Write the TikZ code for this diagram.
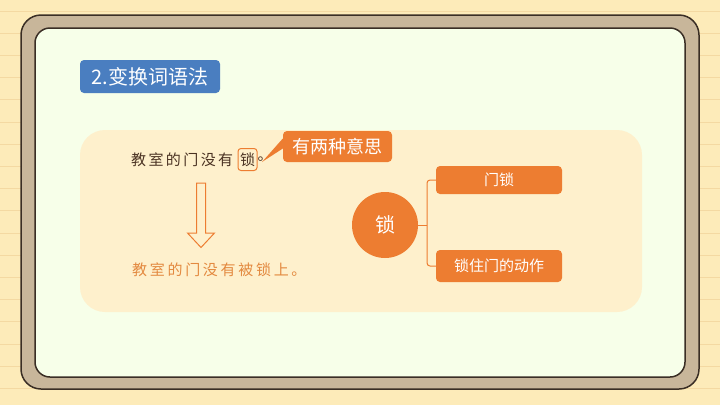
\documentclass[tikz,border=0pt]{standalone}
\usepackage{fontspec}
\newfontfamily\cjk{Noto Sans CJK SC}
\newfontfamily\cjkls[LetterSpace=16]{Noto Sans CJK SC}
\newfontfamily\cjklt[LetterSpace=18]{Noto Sans CJK SC}
\definecolor{paper}{HTML}{FDEBB9}
\definecolor{rule}{HTML}{F4D9A2}
\definecolor{tan}{HTML}{C8B69A}
\definecolor{dark}{HTML}{3A2E25}
\definecolor{board}{HTML}{F7FFE9}
\definecolor{panel}{HTML}{FEF0CC}
\definecolor{ora}{HTML}{ED7D31}
\definecolor{blu}{HTML}{4A7EC0}
\definecolor{brown}{HTML}{4A3222}
\definecolor{ora2}{HTML}{E3893F}
\tikzset{
  obox/.style={fill=ora,rounded corners=4pt,text=white,font=\cjk\fontsize{15}{15}\selectfont,inner sep=0pt},
  conn/.style={draw=ora,line width=1pt},
}
\begin{document}
\begin{tikzpicture}[x=1pt,y=-1pt]
\useasboundingbox (0,0) rectangle (720,405);
\fill[paper] (0,0) rectangle (720,405);
\foreach \k in {0,...,17}{
  \draw[rule,line width=0.8pt] (0,{11+22.2*\k}) -- (720,{11+22.2*\k});
}
% frame
\draw[fill=tan,draw=dark,line width=1.5pt,rounded corners=20pt] (21,15) rectangle (699,389);
\draw[fill=board,draw=dark,line width=1.5pt,rounded corners=15pt] (35,28) rectangle (685,377);
% title
\node[fill=blu,rounded corners=4pt,minimum width=140pt,minimum height=33pt,text=white,font=\cjk\fontsize{20}{20}\selectfont,inner sep=0pt] (title) at (150,76.5) {2.变换词语法};
% panel
\fill[panel,rounded corners=25pt] (80,130) rectangle (642,312);
% sentence 1
\node[anchor=west,text=brown,font=\cjkls\fontsize{15}{15}\selectfont,inner sep=0pt] (s1) at (131,160) {教室的门没有};
\node[draw=ora,line width=1pt,rounded corners=3pt,minimum width=19pt,minimum height=22pt,inner sep=0pt,text=brown,font=\cjk\fontsize{15}{15}\selectfont] (lock) at (247.5,159.5) {锁};
\node[anchor=west,text=brown,font=\cjk\fontsize{15}{15}\selectfont,inner sep=0pt] (dot) at (lock.east) {。};
% callout
\node[fill=ora,rounded corners=4pt,minimum width=109pt,minimum height=31pt,text=white,font=\cjk\fontsize{18}{18}\selectfont,inner sep=0pt] (call) at (337.5,146.5) {有两种意思};
\fill[ora] ([yshift=-2pt]call.west) -- (262,162) -- ([yshift=8pt]call.west) -- cycle;
% hollow arrow
\draw[ora,fill=panel,line width=1pt,line join=miter] (196.5,183) -- (205.5,183) -- (205.5,233) -- (214.5,233) -- (201,247.5) -- (187.5,233) -- (196.5,233) -- cycle;
% sentence 2
\node[anchor=west,text=ora2,font=\cjklt\fontsize{15}{15}\selectfont,inner sep=0pt] (s2) at (132,270) {教室的门没有被锁上。};
% mind map
\node[circle,fill=ora,minimum size=66pt,inner sep=0pt,text=white,font=\cjk\fontsize{20}{20}\selectfont] (c) at (385,225) {锁};
\node[obox,minimum width=126pt,minimum height=28pt] (b1) at (499,180) {门锁};
\node[obox,minimum width=126pt,minimum height=32pt] (b2) at (499,266) {锁住门的动作};
\coordinate (j) at (427,225);
\draw[conn] (c.east) -- (j);
\draw[conn,rounded corners=3pt] (j) |- (b1.west);
\draw[conn,rounded corners=3pt] (j) |- (b2.west);
\end{tikzpicture}
\end{document}
